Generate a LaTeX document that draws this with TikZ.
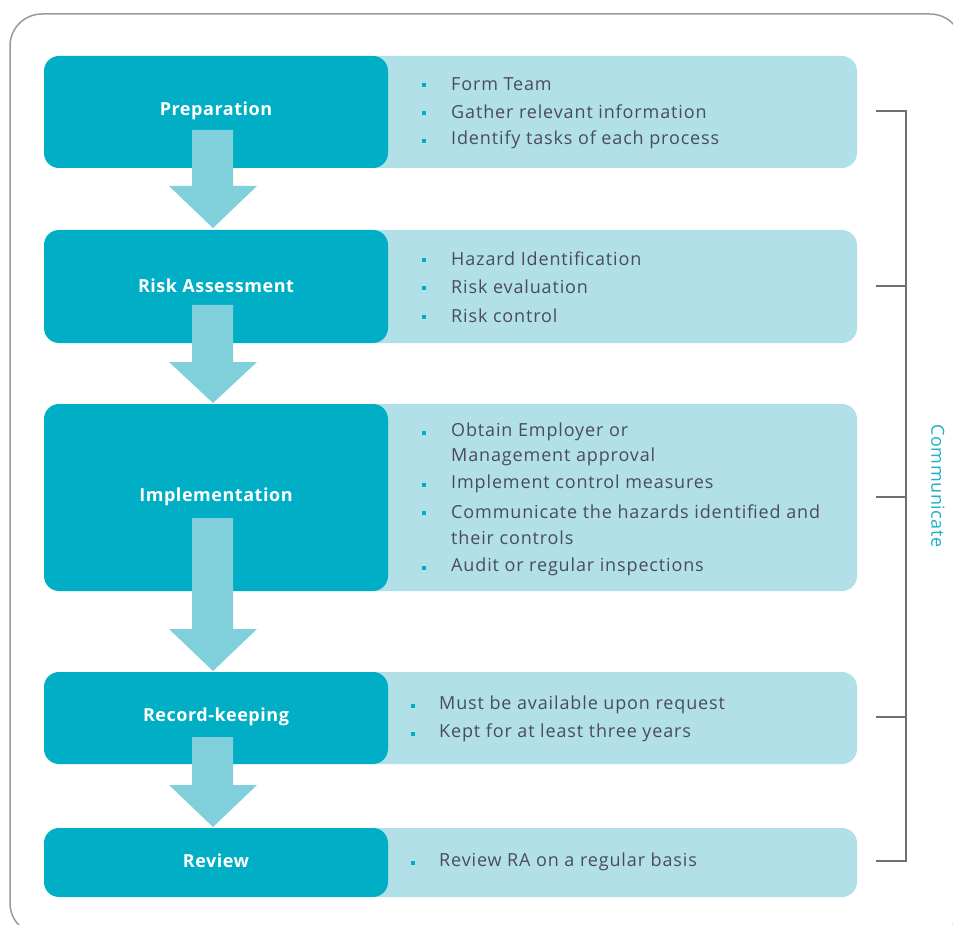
\documentclass[tikz,border=0pt]{standalone}
\usepackage{fontspec}
\setmainfont{Open Sans}
\newfontfamily\itemfont[LetterSpace=4.8]{Open Sans}
\newfontfamily\titlefont[LetterSpace=3]{Open Sans}
\begin{document}
\definecolor{stepdark}{HTML}{00AEC5}
\definecolor{steplight}{HTML}{B2E0E8}
\definecolor{arrowfill}{HTML}{80D0DC}
\definecolor{bodytext}{HTML}{4A4C5C}
\definecolor{bracketgray}{HTML}{707070}
\definecolor{commtext}{HTML}{1FB0C8}
\begin{tikzpicture}[x=1pt,y=-1pt,
  titlebox/.style={fill=stepdark, rounded corners=15pt},
  notebox/.style={fill=steplight, rounded corners=15pt},
  titletext/.style={text=white, font=\titlefont\fontsize{18}{20}\selectfont\bfseries, inner sep=0pt},
  itemtext/.style={text=bodytext, font=\itemfont\fontsize{18}{26}\selectfont, anchor=west, inner sep=0pt, align=left},
  bulletdot/.style={fill=stepdark, minimum size=3.6pt, inner sep=0pt, outer sep=0pt},
  flowarrow/.style={fill=arrowfill},
  bracket/.style={draw=bracketgray, line width=1.8pt},
]
\useasboundingbox (0,0) rectangle (953,925);
% outer frame
\draw[draw=gray!80, line width=1.5pt, rounded corners=32pt] (10,14) rectangle (962,935);

% light note panels
\fill[notebox] (360,56) rectangle (857,168);
\fill[notebox] (360,230) rectangle (857,343);
\fill[notebox] (360,404) rectangle (857,591);
\fill[notebox] (360,672) rectangle (857,764);
\fill[notebox] (360,828) rectangle (857,897);

% dark step boxes
\fill[titlebox] (44,56) rectangle (388,168);
\fill[titlebox] (44,230) rectangle (388,343);
\fill[titlebox] (44,404) rectangle (388,591);
\fill[titlebox] (44,672) rectangle (388,764);
\fill[titlebox] (44,828) rectangle (388,897);

% arrows between steps
\fill[flowarrow] (192,130) -- (233,130) -- (233,186) -- (257,186) -- (213,228) -- (169,186) -- (192,186) -- cycle;
\fill[flowarrow] (192,305) -- (233,305) -- (233,362) -- (257,362) -- (213,403) -- (169,362) -- (192,362) -- cycle;
\fill[flowarrow] (192,518) -- (233,518) -- (233,629) -- (257,629) -- (213,671) -- (169,629) -- (192,629) -- cycle;
\fill[flowarrow] (192,737) -- (233,737) -- (233,785) -- (257,785) -- (213,827) -- (169,785) -- (192,785) -- cycle;

% step titles
\node[titletext] (prep) at (216,111) {Preparation};
\node[titletext] (risk) at (216,286) {Risk Assessment};
\node[titletext] (impl) at (216,497) {Implementation};
\node[titletext] (rec) at (216,717) {Record-keeping};
\node[titletext] (rev) at (216,861) {Review};

% step details
\node[bulletdot] (b1a) at (424,85) {};
\node[itemtext] (t1a) at (451,84) {Form Team};
\node[bulletdot] (b1b) at (424,113) {};
\node[itemtext] (t1b) at (451,112) {Gather relevant information};
\node[bulletdot] (b1c) at (424,141) {};
\node[itemtext] (t1c) at (451,140) {Identify tasks of each process};

\node[bulletdot] (b2a) at (424,260) {};
\node[itemtext] (t2a) at (451,259) {Hazard Identification};
\node[bulletdot] (b2b) at (424,288) {};
\node[itemtext] (t2b) at (451,287) {Risk evaluation};
\node[bulletdot] (b2c) at (424,317) {};
\node[itemtext] (t2c) at (451,316) {Risk control};

\node[bulletdot] (b3a) at (424,433) {};
\node[itemtext] (t3a) at (451,432) {Obtain Employer or};
\node[itemtext] (t3b) at (451,457) {Management approval};
\node[bulletdot] (b3c) at (424,485) {};
\node[itemtext] (t3c) at (451,484) {Implement control measures};
\node[bulletdot] (b3d) at (424,513) {};
\node[itemtext] (t3d) at (451,512) {Communicate the hazards identified and};
\node[itemtext] (t3e) at (451,538) {their controls};
\node[bulletdot] (b3f) at (424,568) {};
\node[itemtext] (t3f) at (451,567) {Audit or regular inspections};

\node[bulletdot] (b4a) at (413,706) {};
\node[itemtext] (t4a) at (439,705) {Must be available upon request};
\node[bulletdot] (b4b) at (413,734) {};
\node[itemtext] (t4b) at (439,733) {Kept for at least three years};

\node[bulletdot] (b5a) at (413,863) {};
\node[itemtext] (t5a) at (439,862) {Review RA on a regular basis};

% communication bracket
\coordinate (k1) at (876,111);
\coordinate (k2) at (876,286);
\coordinate (k3) at (876,497);
\coordinate (k4) at (876,717);
\coordinate (k5) at (876,861);
\draw[bracket] (k1) -- (906,111) -- (906,861) -- (k5);
\draw[bracket] (k2) -- (906,286);
\draw[bracket] (k3) -- (906,497);
\draw[bracket] (k4) -- (906,717);
\node[text=commtext, font=\titlefont\fontsize{18}{20}\selectfont, rotate=-90, inner sep=0pt] (comm) at (938,486) {Communicate};
\end{tikzpicture}
\end{document}
